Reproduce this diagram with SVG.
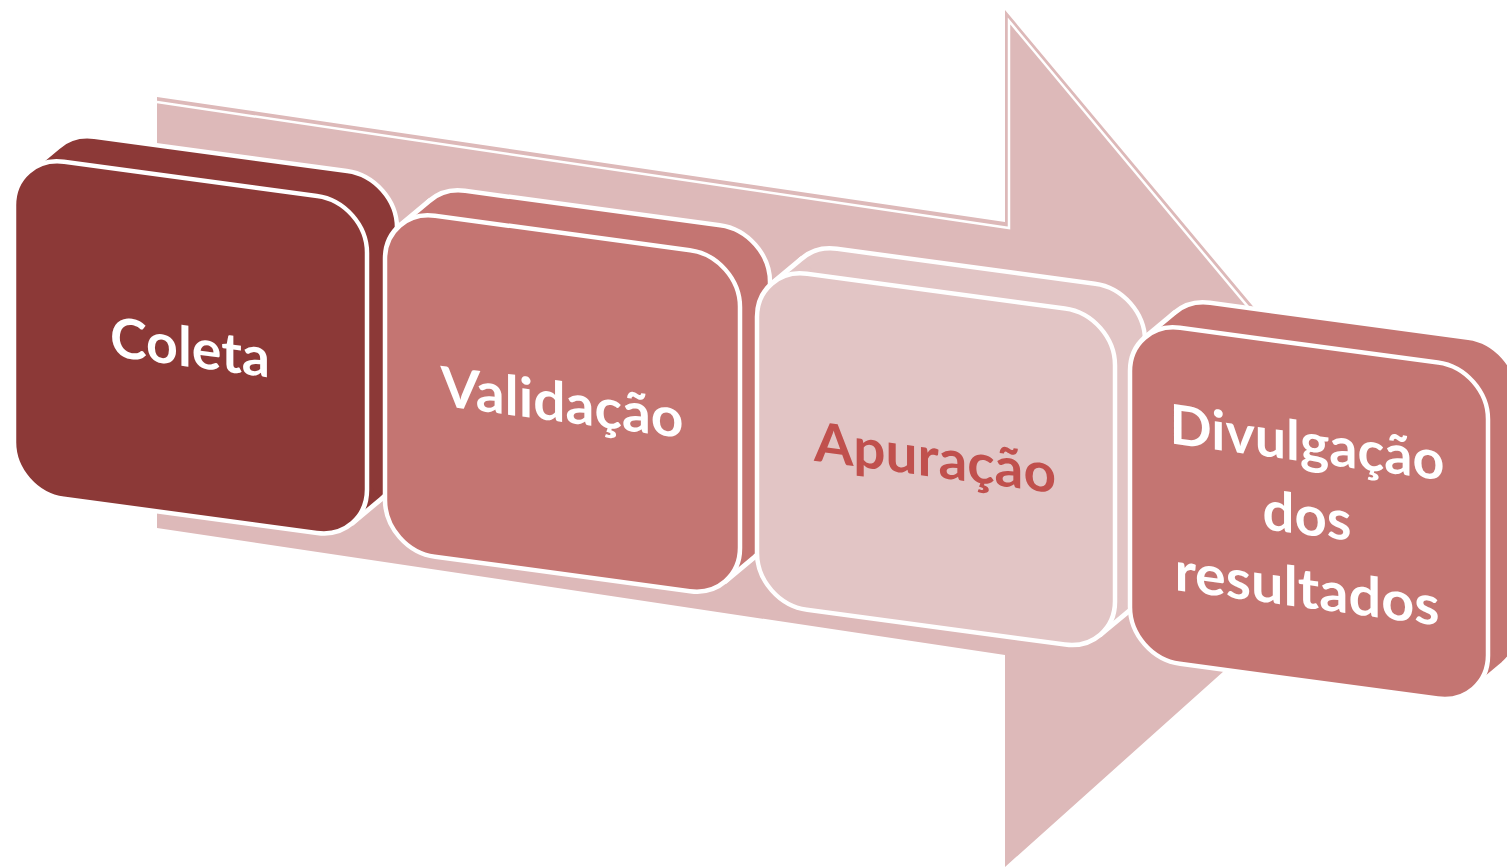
<svg xmlns="http://www.w3.org/2000/svg" width="1507" height="867" viewBox="0 0 1507 867">
<style>
  .face { stroke: #FFFFFF; stroke-width: 4.5; }
  .edge { stroke: #FFFFFF; stroke-width: 4.5; stroke-linecap: round; }
  .c1 { fill: #8C3937; }
  .c2 { fill: #C47572; }
  .c3 { fill: #E2C5C5; }
  .lbl { font-family: Lato, "Open Sans", "Liberation Sans", sans-serif; font-weight: bold; font-size: 55px; text-anchor: middle; }
  .w { fill: #FFFFFF; }
  .r { fill: #C0504D; }
</style>
<rect width="1507" height="867" fill="#FFFFFF"/>
<g id="connectors">
  <polygon points="157,97 1005,222 1005,10 1415,500 1005,867 1005,655 157,528" fill="#DDB9B9"/>
  <polyline points="157,102 1009,228 1009,21 1300,369" fill="none" stroke="#FFFFFF" stroke-width="2.5"/>
</g>
<g id="box1" transform="matrix(1 0.135 0 1 14 155)">
  <rect class="c1 face" x="30" y="-29" width="353" height="337" rx="50"/>
  <polygon class="c1" points="14.6,14.6 44.6,-14.4 368.4,293.4 338.4,322.4"/>
  <line class="edge" x1="14.6" y1="14.6" x2="44.6" y2="-14.4"/>
  <line class="edge" x1="338.4" y1="322.4" x2="368.4" y2="293.4"/>
  <rect class="c1 face" x="0" y="0" width="353" height="337" rx="50"/>
  <text class="lbl w" x="176" y="188" textLength="160" lengthAdjust="spacingAndGlyphs">Coleta</text>
</g>
<g id="box2" transform="matrix(1 0.135 0 1 385 209)">
  <rect class="c2 face" x="30" y="-29" width="355" height="341" rx="50"/>
  <polygon class="c2" points="14.6,14.6 44.6,-14.4 370.4,297.4 340.4,326.4"/>
  <line class="edge" x1="14.6" y1="14.6" x2="44.6" y2="-14.4"/>
  <line class="edge" x1="340.4" y1="326.4" x2="370.4" y2="297.4"/>
  <rect class="c2 face" x="0" y="0" width="355" height="341" rx="50"/>
  <text class="lbl w" x="177" y="189" textLength="243" lengthAdjust="spacingAndGlyphs">Validação</text>
</g>
<g id="box3" transform="matrix(1 0.135 0 1 757 267)">
  <rect class="c3 face" x="30" y="-29" width="358" height="336" rx="50"/>
  <polygon class="c3" points="14.6,14.6 44.6,-14.4 373.4,292.4 343.4,321.4"/>
  <line class="edge" x1="14.6" y1="14.6" x2="44.6" y2="-14.4"/>
  <line class="edge" x1="343.4" y1="321.4" x2="373.4" y2="292.4"/>
  <rect class="c3 face" x="0" y="0" width="358" height="336" rx="50"/>
  <text class="lbl r" x="178" y="186" textLength="242" lengthAdjust="spacingAndGlyphs">Apuração</text>
</g>
<g id="box4" transform="matrix(1 0.135 0 1 1130 321)">
  <rect class="c2 face" x="30" y="-29" width="358" height="336" rx="50"/>
  <polygon class="c2" points="14.6,14.6 44.6,-14.4 373.4,292.4 343.4,321.4"/>
  <line class="edge" x1="14.6" y1="14.6" x2="44.6" y2="-14.4"/>
  <line class="edge" x1="343.4" y1="321.4" x2="373.4" y2="292.4"/>
  <rect class="c2 face" x="0" y="0" width="358" height="336" rx="50"/>
  <text class="lbl w" x="177" y="117" textLength="275" lengthAdjust="spacingAndGlyphs">Divulgação</text>
  <text class="lbl w" x="177" y="190" textLength="89" lengthAdjust="spacingAndGlyphs">dos</text>
  <text class="lbl w" x="177" y="263" textLength="265" lengthAdjust="spacingAndGlyphs">resultados</text>
</g>
</svg>
